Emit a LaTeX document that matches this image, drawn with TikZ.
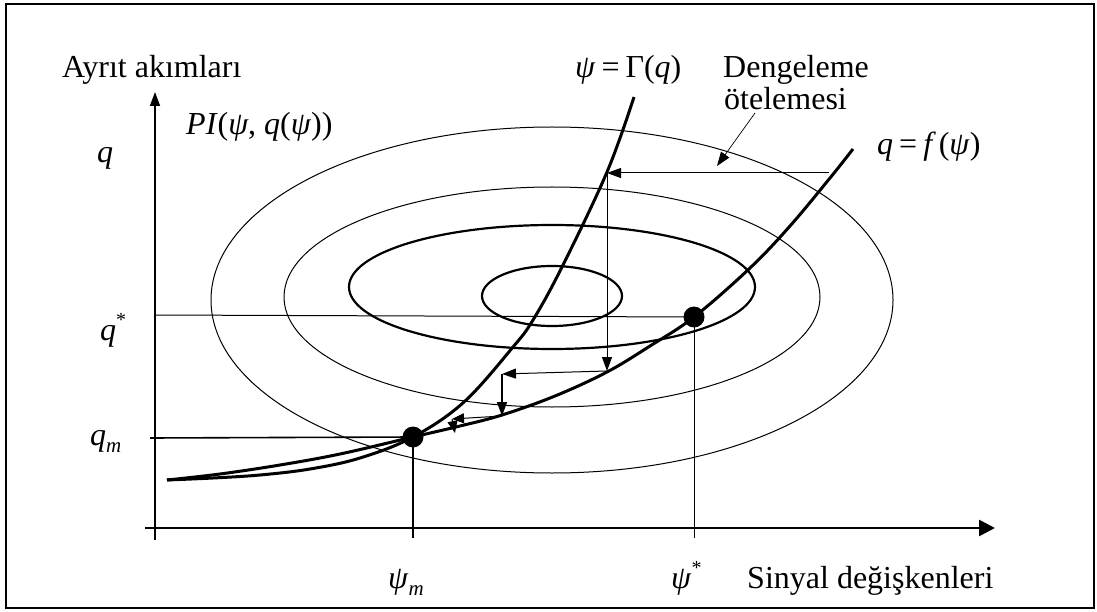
\documentclass[tikz,border=0pt]{standalone}
\usepackage{fontspec}
\setmainfont{Liberation Serif}
\usetikzlibrary{arrows.meta}
\tikzset{
  curve/.style={line width=3pt, line join=round},
  hair/.style={line width=1pt},
  mid/.style={line width=1.6pt},
  tipa/.style={-{Triangle[length=14pt,width=10pt]}},
  tipsmall/.style={-{Triangle[length=12pt,width=10pt]}},
  lbl/.style={inner sep=0pt, font=\fontsize{32}{33}\selectfont},
  dot/.style={circle, fill=black, inner sep=0pt, minimum size=21pt},
  ethin/.style={line width=1pt},
  ethick/.style={line width=2.2pt}
}
\newcommand{\subm}{\raisebox{-7pt}{\fontsize{21}{21}\selectfont\textit{m}}}
\newcommand{\supstar}{\raisebox{14pt}{\fontsize{20}{20}\selectfont *}}
\newcommand{\eqs}{\hspace{6pt}=\hspace{6pt}}
\begin{document}
\begin{tikzpicture}[x=1pt,y=-1pt]
\useasboundingbox (0,0) rectangle (1097,612);
\draw[line width=2pt] (6,4) rectangle (1094,608);

% ellipses
\draw[ethin] (552,300) ellipse [x radius=341pt, y radius=173pt];
\draw[ethin] (552,297) ellipse [x radius=268pt, y radius=110pt];
\draw[ethick] (552,287) ellipse [x radius=203pt, y radius=62pt];
\draw[ethick] (552,296) ellipse [x radius=70pt, y radius=30pt];

% axes
\coordinate (ybot) at (155,540);
\coordinate (ytop) at (155,92);
\coordinate (xl) at (145,528);
\coordinate (xr) at (995,528);
\draw[line width=1.5pt, -{Triangle[length=14pt,width=10pt]}] (ybot) -- (ytop);
\draw[line width=2.5pt, -{Triangle[length=16pt,width=16pt]}] (xl) -- (xr);

% dots
\node[dot] (dm) at (413,437) {};
\node[dot] (ds) at (694,317) {};

% reference lines
\coordinate (qs0) at (155,315);
\coordinate (qm0) at (150,438);
\coordinate (pm0) at (413,538);
\coordinate (ps0) at (694,538);
\draw[hair] (qs0) -- (ds.center);
\draw[mid] (qm0) -- (dm.center);
\draw[mid] (dm.center) -- (pm0);
\draw[hair] (ds.center) -- (ps0);

% curves
\draw[curve] plot[smooth, tension=0.6] coordinates {(167,480) (213,478) (260,475) (310,469) (360,458) (413,437) (464,402) (513,347) (533,320) (562,267) (607,172) (634,97)};
\draw[curve] plot[smooth, tension=0.6] coordinates {(167,480) (220,474) (280,465) (340,454) (413,437) (460,426) (502,415) (555,396) (607,372) (650,346) (694,317) (750,268) (790,226) (830,178) (853,149)};

% iteration arrows
\coordinate (f1) at (829,173);
\coordinate (g1) at (607,173);
\coordinate (f2) at (607,371);
\coordinate (g2) at (502,374);
\coordinate (f3) at (502,416);
\coordinate (g3) at (452,419);
\coordinate (f4) at (455,433);
\draw[hair, tipa] (f1) -- (g1);
\draw[hair, tipa] (g1) -- (f2);
\draw[hair, tipa] (f2) -- (g2);
\draw[mid, tipa] (g2) -- (f3);
\draw[hair, tipsmall] (f3) -- (g3);
\draw[hair, tipsmall] (g3) -- (f4);

% labels
\node[lbl, anchor=base west] (ya) at (62,78) {Ayrıt akımları};
\node[lbl, anchor=base west] (pi) at (186,135) {\textit{PI}(\textit{ψ}, \textit{q}(\textit{ψ}))};
\node[lbl, anchor=base west] (ql) at (97,163) {\textit{q}};
\node[lbl, anchor=base west] (qsl) at (100,340) {\textit{q}\supstar};
\node[lbl, anchor=base west] (qml) at (90,445) {\textit{q}\subm};
\node[lbl, anchor=base west] (gam) at (575,78) {\textit{ψ}\eqs Γ(\textit{q})};
\node[lbl, anchor=base west] (deng) at (723,78) {Dengeleme};
\node[lbl, anchor=base west] (otel) at (724,110) {ötelemesi};
\node[lbl, anchor=base west] (fq) at (877,155) {\textit{q}\eqs\textit{f}\hspace{3pt}(\textit{ψ})};
\node[lbl, anchor=base west] (pml) at (388,588) {\textit{ψ}\subm};
\node[lbl, anchor=base west] (psl) at (671,588) {\textit{ψ}\supstar};
\node[lbl, anchor=base west] (sin) at (747,588) {Sinyal değişkenleri};

% leader
\coordinate (ld0) at (755,113);
\coordinate (ld1) at (717,166);
\draw[line width=0.7pt, tipa] (ld0) -- (ld1);
\end{tikzpicture}
\end{document}
